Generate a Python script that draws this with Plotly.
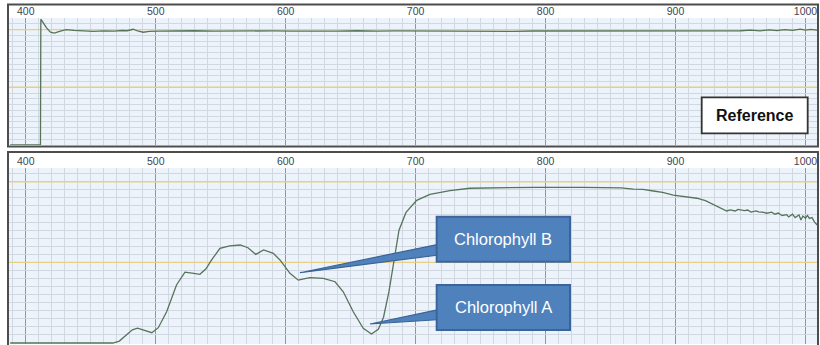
import plotly.graph_objects as go

# ---------------- data ----------------
ref_wavelength = [388, 411.3, 411.6, 413.5, 416, 419, 422, 426, 431, 437, 444, 452, 460, 468, 474, 478,
                  482.7, 486, 490.4, 495, 502, 515, 530, 545, 560, 575, 590, 605, 620, 640, 655, 670,
                  685, 700, 715, 730, 745, 760, 775, 790, 805, 820, 835, 850, 865, 880, 895, 910, 925,
                  940, 950, 958, 965, 972, 978, 984, 990, 996, 1000, 1004, 1009]
ref_signal = [0, 0, 109, 105.5, 101.5, 97.8, 96.9, 98.4, 100.0, 99.4, 98.9, 98.4, 98.9, 98.6, 99.2, 99.0,
              100.3, 98.8, 97.7, 98.5, 98.7, 98.9, 99.0, 98.6, 98.9, 98.7, 98.9, 98.7, 98.5, 98.7, 99.0, 98.6,
              98.9, 98.8, 98.6, 99.0, 98.7, 98.9, 98.5, 98.8, 98.8, 98.9, 98.7, 99.0, 98.7, 98.8, 98.6, 98.9, 98.8,
              99.2, 99.0, 99.6, 98.9, 99.7, 99.1, 99.9, 99.3, 100.4, 99.6, 100.2, 99.5]

leaf_wavelength = [388, 467, 472, 477, 482, 486, 491, 497, 502, 508.4, 516, 522.5, 528, 534, 538.7, 543,
                   549.4, 557, 565, 571, 577, 583, 590.5, 595.6, 603.3, 609.7, 614, 618.7, 629, 638, 644.3,
                   652, 659.7, 666, 671.3, 675.3, 679.5, 683.4, 687.2, 692.6, 700.8, 711, 726.4, 741.8,
                   767.5, 793, 829, 849.6, 858, 867.5, 875, 883, 890, 898.3, 905, 910, 916.3, 923, 929,
                   935, 939.4, 942, 946, 948, 953, 955.5, 958, 962, 964, 968, 970, 974, 976.5, 979, 982,
                   985.5, 987, 990, 992, 995, 996.5, 998, 1000, 1001.5, 1003, 1005, 1007, 1009]
leaf_signal = [0, 0, 1.2, 4.5, 8.2, 9.2, 8.0, 6.4, 9.5, 19.4, 36, 43.9, 43.3, 42.6, 46, 51.5,
               58.7, 60.3, 60.8, 59.1, 55, 57.7, 55.6, 51.5, 43.2, 39, 39.8, 40.5, 40.1, 38, 31.8,
               19.4, 9.1, 5.6, 8.5, 16, 32, 52, 70, 81, 88.5, 92.2, 94.5, 96,
               96.4, 96.6, 96.6, 96.4, 96.2, 95.5, 95.3, 94.3, 93.5, 91.8, 91.2, 90.6, 89.8, 88.3, 86,
               83.5, 81.9, 82.6, 81.9, 82.9, 82.1, 82.5, 81.2, 82.0, 81.3, 81.1, 80.5, 81.2, 79.9, 80.6, 79.1,
               79.6, 78.2, 79.9, 77.8, 79.4, 76.3, 78.8, 77.4, 79.1, 77.3, 77.8, 75.0, 73.2]

x_tick_values = [400, 500, 600, 700, 800, 900, 1000]
x_tick_labels = ["400", "500", "600", "700", "800", "900", "1000"]
x_minor_values = [v for v in range(390, 1011, 10) if v % 100 != 0]
y_major_values = [50, 100]
y_minor_values = [v for v in range(0, 111, 5) if v not in (50, 100)]

panel_label = "Reference"
callout_labels = ["Chlorophyll B", "Chlorophyll A"]
callout_tip_nm = [611.0, 664.9]
callout_tip_val = [43.6, 11.8]

# ---------------- layout helpers ----------------
W, H = 820, 345
X_RANGE = [387.1, 1008.85]


def px(x):
    return x / W


def py(y):
    return 1 - y / H


LINE_COLOR = "#56745c"
MAJOR_GRID = "#90969d"
MINOR_GRID = "#d2d8e1"
YELLOW_GRID = "#e8cf85"
TICK_FONT = dict(family="Liberation Sans", size=10.5, color="#3d4654")

fig = go.Figure()
fig.add_trace(go.Scatter(x=ref_wavelength, y=ref_signal, mode="lines",
                         line=dict(color=LINE_COLOR, width=1.3), cliponaxis=False,
                         xaxis="x", yaxis="y", showlegend=False, hoverinfo="skip"))
fig.add_trace(go.Scatter(x=leaf_wavelength, y=leaf_signal, mode="lines",
                         line=dict(color=LINE_COLOR, width=1.3), cliponaxis=False,
                         xaxis="x2", yaxis="y2", showlegend=False, hoverinfo="skip"))


def xaxis_cfg(anchor):
    return dict(domain=[px(9), px(817)], range=X_RANGE, anchor=anchor, side="top",
                tickmode="array", tickvals=x_tick_values, ticktext=x_tick_labels,
                tickfont=TICK_FONT, ticks="", showgrid=True, gridcolor=MAJOR_GRID, gridwidth=1.3,
                minor=dict(tickmode="array", tickvals=x_minor_values, showgrid=True,
                           gridcolor=MINOR_GRID, gridwidth=1),
                zeroline=False, showline=False, fixedrange=True)


def yaxis_cfg(anchor, dom, rng):
    return dict(domain=dom, range=rng, anchor=anchor, tickmode="array", tickvals=y_minor_values,
                showticklabels=False, ticks="", showgrid=True, gridcolor=MINOR_GRID, gridwidth=1,
                zeroline=False, showline=False, fixedrange=True)


shapes = []
# highlighted horizontal reference levels (between grid and traces)
for xr, yr in (("x", "y"), ("x2", "y2")):
    for lvl in y_major_values:
        shapes.append(dict(type="line", xref=xr, yref=yr, x0=X_RANGE[0], x1=X_RANGE[1], y0=lvl, y1=lvl,
                           line=dict(color=YELLOW_GRID, width=1.4), layer="between"))

# panel frames
shapes.append(dict(type="rect", xref="paper", yref="paper", x0=px(8), x1=px(818), y0=py(146.5), y1=py(4.5),
                   line=dict(color="#4d4d4d", width=2), layer="above"))
shapes.append(dict(type="rect", xref="paper", yref="paper", x0=px(8), x1=px(818), y0=py(346), y1=py(152),
                   line=dict(color="#4d4d4d", width=2), layer="above"))
# Reference label box
shapes.append(dict(type="rect", xref="paper", yref="paper", x0=px(701.7), x1=px(807.7), y0=py(133.3), y1=py(97.3),
                   fillcolor="white", line=dict(color="#333333", width=1.8), layer="above"))

# callouts (bottom panel, data coordinates)
box_specs = [  # (x0, x1, y0, y1, wedge base top, wedge base bottom)
    (716.2, 818.8, 50.4, 78.3, 62.0, 55.0),
    (716.2, 818.8, 8.1, 36.0, 21.5, 14.7),
]
for (x0, x1, y0, y1, wt, wb), tx, ty in zip(box_specs, callout_tip_nm, callout_tip_val):
    shapes.append(dict(type="path", xref="x2", yref="y2",
                       path=f"M {x0 + 6},{wt} L {tx},{ty} L {x0 + 6},{wb} Z",
                       fillcolor="#4f81bd", line=dict(color="#3a6496", width=1.2), layer="above"))
    shapes.append(dict(type="rect", xref="x2", yref="y2", x0=x0, x1=x1, y0=y0, y1=y1,
                       fillcolor="#4f81bd", line=dict(color="#3b659a", width=2), layer="above"))

annotations = [dict(xref="paper", yref="paper", x=px(754.7), y=py(115.5), text=f"<b>{panel_label}</b>",
                    xanchor="center", yanchor="middle", showarrow=False,
                    font=dict(family="Liberation Sans", size=16, color="#111111"))]
for (x0, x1, y0, y1, _, _), lab in zip(box_specs, callout_labels):
    annotations.append(dict(xref="x2", yref="y2", x=(x0 + x1) / 2, y=(y0 + y1) / 2, text=lab,
                            xanchor="center", yanchor="middle", showarrow=False,
                            font=dict(family="Liberation Sans", size=16.5, color="white")))

fig.update_layout(
    width=W, height=H, autosize=False,
    margin=dict(l=0, r=0, t=0, b=0),
    paper_bgcolor="white", plot_bgcolor="#edf3fa",
    xaxis=xaxis_cfg("y"),
    yaxis=yaxis_cfg("x", [py(145), py(18)], [0, 110.05]),
    xaxis2=xaxis_cfg("y2"),
    yaxis2=yaxis_cfg("x2", [py(344), py(168)], [-0.62, 108.56]),
    shapes=shapes, annotations=annotations, showlegend=False,
)

fig.write_html("out.html", config={"displayModeBar": False, "staticPlot": True},
               post_script="document.body.style.margin='0';document.body.style.overflow='hidden';")
